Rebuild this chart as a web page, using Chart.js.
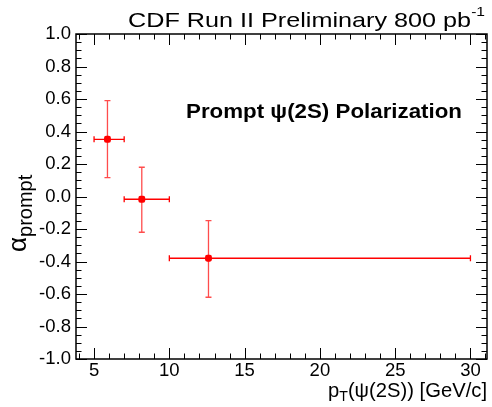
<!DOCTYPE html>
<html>
<head>
<meta charset="utf-8">
<script src="https://cdn.jsdelivr.net/npm/chart.js@4/dist/chart.umd.min.js"></script>
<style>
  html, body { margin: 0; padding: 0; background: #fff; }
  #wrap { width: 492px; height: 407px; }
</style>
</head>
<body>
<div id="wrap"><canvas id="c" width="492" height="407"></canvas></div>
<script>
// data
const PT = [5.89, 8.17, 12.6];
const PT_LO = [5, 7, 10];
const PT_HI = [7, 10, 30];
const ALPHA = [0.352, -0.017, -0.38];
const ALPHA_LO = [0.116, -0.22, -0.62];
const ALPHA_HI = [0.59, 0.18, -0.149];

const X_TICKS = [5, 10, 15, 20, 25, 30];
const Y_TICKS = [-1.0, -0.8, -0.6, -0.4, -0.2, 0.0, 0.2, 0.4, 0.6, 0.8, 1.0];

const FONT = '"Liberation Sans", Arial, Helvetica, sans-serif';
const RED = '#ff0000';

const points = PT.map((x, i) => ({ x: x, y: ALPHA[i] }));

// draw a run of pieces [text, font, dy] left to right, stretched to a given width
function drawRun(ctx, pieces, x, y, width) {
  let total = 0;
  const ws = pieces.map(p => { ctx.font = p[1]; const w = ctx.measureText(p[0]).width; total += w; return w; });
  const sx = width ? width / total : 1;
  ctx.save();
  ctx.translate(x, y);
  ctx.scale(sx, 1);
  let cx = 0;
  pieces.forEach((p, i) => {
    ctx.font = p[1];
    ctx.fillText(p[0], cx, p[2]);
    cx += ws[i];
  });
  ctx.restore();
}

// error bars, drawn through the chart scales
const errorBars = {
  id: 'errorBars',
  beforeDatasetsDraw(chart) {
    const ctx = chart.ctx;
    const xs = chart.scales.x, ys = chart.scales.y;
    ctx.save();
    ctx.strokeStyle = RED;
    ctx.lineWidth = 1.3;
    const cap = 3;
    for (let i = 0; i < PT.length; i++) {
      const px = xs.getPixelForValue(PT[i]);
      const py = ys.getPixelForValue(ALPHA[i]);
      const x0 = xs.getPixelForValue(PT_LO[i]);
      const x1 = xs.getPixelForValue(PT_HI[i]);
      const y0 = ys.getPixelForValue(ALPHA_LO[i]);
      const y1 = ys.getPixelForValue(ALPHA_HI[i]);
      ctx.beginPath();
      ctx.moveTo(x0, py); ctx.lineTo(x1, py);
      ctx.moveTo(x0, py - cap); ctx.lineTo(x0, py + cap);
      ctx.moveTo(x1, py - cap); ctx.lineTo(x1, py + cap);
      ctx.stroke();
      ctx.globalAlpha = 0.7;
      ctx.beginPath();
      ctx.moveTo(px, y0); ctx.lineTo(px, y1);
      ctx.moveTo(px - cap, y0); ctx.lineTo(px + cap, y0);
      ctx.moveTo(px - cap, y1); ctx.lineTo(px + cap, y1);
      ctx.stroke();
      ctx.globalAlpha = 1;
    }
    ctx.restore();
  }
};

// ROOT style frame with inward ticks, plus titles
const frame = {
  id: 'frame',
  afterDraw(chart) {
    const ctx = chart.ctx;
    const a = chart.chartArea;
    const xs = chart.scales.x, ys = chart.scales.y;
    ctx.save();
    ctx.strokeStyle = '#000';
    ctx.lineWidth = 1.5;
    ctx.strokeRect(a.left, a.top, a.right - a.left, a.bottom - a.top);

    ctx.lineWidth = 1;
    ctx.beginPath();
    for (let v = 4; v <= 31; v++) {
      const p = Math.round(xs.getPixelForValue(v)) + 0.5;
      const len = (v % 5 === 0) ? 11 : 5.5;
      ctx.moveTo(p, a.bottom); ctx.lineTo(p, a.bottom - len);
      ctx.moveTo(p, a.top); ctx.lineTo(p, a.top + len);
    }
    for (let k = -20; k <= 20; k++) {
      const v = k * 0.05;
      const p = Math.round(ys.getPixelForValue(v)) + 0.5;
      const len = (k % 4 === 0) ? 11 : 5.5;
      ctx.moveTo(a.left, p); ctx.lineTo(a.left + len, p);
      ctx.moveTo(a.right, p); ctx.lineTo(a.right - len, p);
    }
    ctx.stroke();

    ctx.fillStyle = '#000';
    ctx.textBaseline = 'alphabetic';
    ctx.textAlign = 'left';

    // main title
    drawRun(ctx, [
      ['CDF Run II Preliminary 800 pb', '21px ' + FONT, 0],
      ['-1', '13px ' + FONT, -11]
    ], 128, 27, 357);

    // in-plot label
    drawRun(ctx, [['Prompt \u03c8(2S) Polarization', 'bold 21px ' + FONT, 0]], 186, 118, 276);

    // x title
    drawRun(ctx, [
      ['p', '20px ' + FONT, 0],
      ['T', '14px ' + FONT, 4],
      ['(\u03c8(2S)) [GeV/c]', '20px ' + FONT, 0]
    ], 328, 397, 159);

    // y title, rotated
    ctx.translate(26, 252);
    ctx.rotate(-Math.PI / 2);
    drawRun(ctx, [
      ['\u03b1', '26px ' + FONT, 0],
      ['prompt', '20px ' + FONT, 6]
    ], 0, 0, 0);
    ctx.restore();
  }
};

new Chart(document.getElementById('c'), {
  type: 'scatter',
  data: {
    datasets: [{
      data: points,
      backgroundColor: RED,
      borderColor: RED,
      pointStyle: 'rectRounded',
      pointRadius: 4,
      pointHoverRadius: 4,
      borderWidth: 0
    }]
  },
  options: {
    responsive: false,
    animation: false,
    events: [],
    layout: { padding: { left: 0, top: 34, right: 5, bottom: 0 } },
    plugins: { legend: { display: false }, tooltip: { enabled: false } },
    scales: {
      x: {
        type: 'linear',
        min: 3.8,
        max: 31.1,
        afterBuildTicks: s => { s.ticks = X_TICKS.map(v => ({ value: v })); },
        afterFit: s => { s.height = 48; },
        grid: { display: false, drawTicks: false },
        border: { display: false },
        ticks: {
          color: '#000',
          font: { family: FONT, size: 18.5 },
          padding: 1,
          maxRotation: 0,
          autoSkip: false
        }
      },
      y: {
        type: 'linear',
        min: -1,
        max: 1,
        afterBuildTicks: s => { s.ticks = Y_TICKS.map(v => ({ value: v })); },
        afterFit: s => { s.width = 76; },
        grid: { display: false, drawTicks: false },
        border: { display: false },
        ticks: {
          color: '#000',
          font: { family: FONT, size: 18.5 },
          padding: 5,
          autoSkip: false,
          callback: v => (Math.abs(v) < 1e-9 ? 0 : v).toFixed(1)
        }
      }
    }
  },
  plugins: [errorBars, frame]
});
</script>
</body>
</html>
